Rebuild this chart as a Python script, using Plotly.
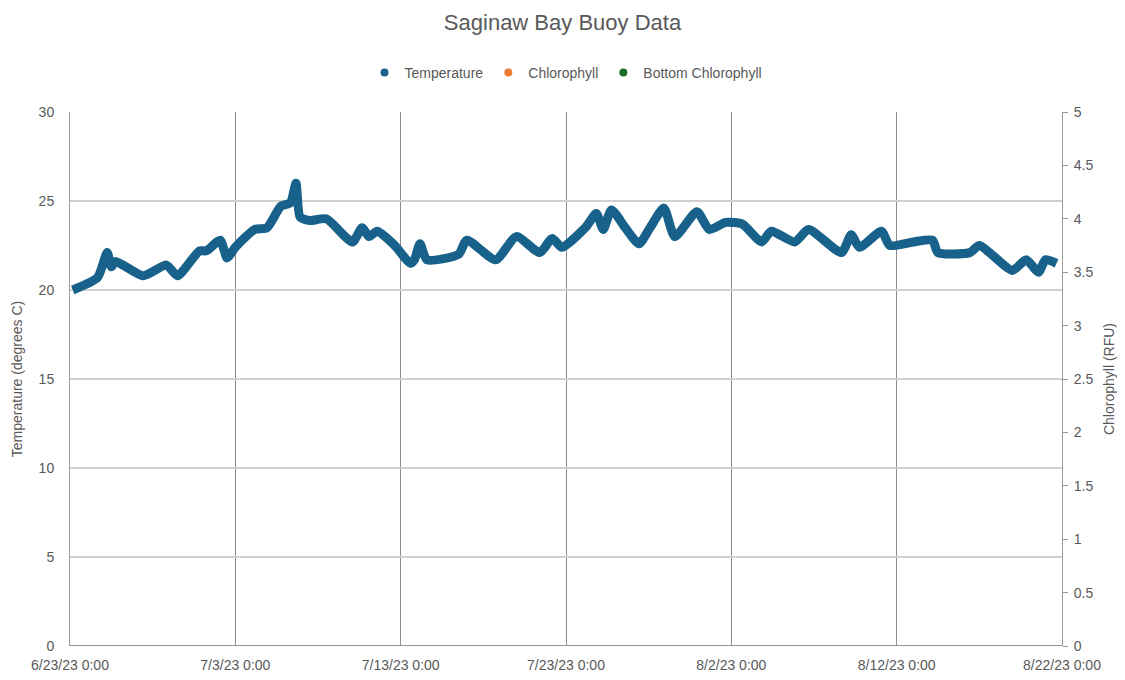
"""Saginaw Bay buoy temperature chart (Excel-style scatter look)."""

import plotly.graph_objects as go

# Temperature readings (deg C), by timestamp.
temp_time = [
    "2023-06-23 04:00", "2023-06-24 16:00", "2023-06-25 06:00", "2023-06-25 12:00",
    "2023-06-25 18:00", "2023-06-27 10:00", "2023-06-28 20:00", "2023-06-29 12:00",
    "2023-06-30 20:00", "2023-07-01 06:00", "2023-07-02 02:00", "2023-07-02 12:00",
    "2023-07-03 00:00", "2023-07-04 04:00", "2023-07-04 22:00", "2023-07-05 18:00",
    "2023-07-06 08:00", "2023-07-06 16:00", "2023-07-06 22:00", "2023-07-07 12:00",
    "2023-07-08 12:00", "2023-07-10 02:00", "2023-07-10 16:00", "2023-07-11 02:00",
    "2023-07-11 14:00", "2023-07-13 00:00", "2023-07-13 20:00", "2023-07-12 18:00",
    "2023-07-13 14:00", "2023-07-14 04:00", "2023-07-14 14:00", "2023-07-16 12:00",
    "2023-07-17 00:00", "2023-07-18 18:00", "2023-07-20 00:00", "2023-07-21 10:00",
    "2023-07-22 04:00", "2023-07-22 18:00", "2023-07-24 04:00", "2023-07-24 20:00",
    "2023-07-25 06:00", "2023-07-25 18:00", "2023-07-26 14:00", "2023-07-27 10:00",
    "2023-07-28 02:00", "2023-07-28 22:00", "2023-07-29 14:00", "2023-07-30 22:00",
    "2023-07-31 16:00", "2023-08-01 16:00", "2023-08-02 16:00", "2023-08-03 20:00",
    "2023-08-04 10:00", "2023-08-05 20:00", "2023-08-06 16:00", "2023-08-08 16:00",
    "2023-08-09 06:00", "2023-08-09 18:00", "2023-08-11 02:00", "2023-08-11 14:00",
    "2023-08-13 00:00", "2023-08-14 04:00", "2023-08-14 12:00", "2023-08-16 10:00",
    "2023-08-17 00:00", "2023-08-19 00:00", "2023-08-19 20:00", "2023-08-20 14:00",
    "2023-08-21 00:00", "2023-08-21 16:00",
]
temp_value = [
    20.0, 20.7, 22.1, 21.3, 21.6, 20.8, 21.4, 20.8,
    22.2, 22.2, 22.8, 21.8, 22.4, 23.4, 23.5, 24.7,
    24.9, 26.0, 24.1, 23.9, 24.0, 22.7, 23.5, 23.0,
    23.3, 22.1, 21.7, 22.4, 21.5, 22.6, 21.7, 22.0,
    22.8, 21.7, 23.0, 22.1, 22.9, 22.4, 23.5, 24.3,
    23.4, 24.5, 23.5, 22.6, 23.5, 24.6, 23.0, 24.4,
    23.4, 23.8, 23.7, 22.7, 23.3, 22.7, 23.4, 22.1,
    23.1, 22.4, 23.3, 22.5, 22.7, 22.8, 22.1, 22.1,
    22.5, 21.1, 21.7, 21.0, 21.7, 21.5,
]
# The two chlorophyll series carry no visible points in the reference.
chl_time = []
chl_value = []
bottom_chl_time = []
bottom_chl_value = []

temp_ticks = [0, 5, 10, 15, 20, 25, 30]
chl_ticks = [0, 0.5, 1, 1.5, 2, 2.5, 3, 3.5, 4, 4.5, 5]
date_ticks = ["2023-06-23", "2023-07-03", "2023-07-13", "2023-07-23",
              "2023-08-02", "2023-08-12", "2023-08-22"]
date_labels = ["6/23/23 0:00", "7/3/23 0:00", "7/13/23 0:00", "7/23/23 0:00",
               "8/2/23 0:00", "8/12/23 0:00", "8/22/23 0:00"]

_BLUE = "#17618a"
_ORANGE = "#ed7d31"
_GREEN = "#1e6b23"
_TEXT = "#595959"
_FONT = "Liberation Sans, Arial, sans-serif"

# sort by time so the line does not double back
pairs = sorted(zip(temp_time, temp_value))
xs = [p[0] for p in pairs]
ys = [p[1] for p in pairs]

fig = go.Figure()
fig.add_trace(go.Scatter(
    x=xs, y=ys, mode="lines", name="Temperature", showlegend=False,
    legendgroup="t", line={"color": _BLUE, "width": 9, "shape": "spline", "smoothing": 0.6},
))
fig.add_trace(go.Scatter(
    x=[None], y=[None], mode="markers", name="Temperature", legendgroup="t",
    marker={"color": _BLUE, "size": 8},
))
fig.add_trace(go.Scatter(
    x=chl_time or [None], y=chl_value or [None], mode="markers", name="Chlorophyll",
    marker={"color": _ORANGE, "size": 8}, yaxis="y2",
))
fig.add_trace(go.Scatter(
    x=bottom_chl_time or [None], y=bottom_chl_value or [None], mode="markers",
    name="Bottom Chlorophyll", marker={"color": _GREEN, "size": 8}, yaxis="y2",
))

# the page body has an 8px margin, so the figure is sized to fit inside it
fig.update_layout(
    width=1109, height=664,
    paper_bgcolor="white", plot_bgcolor="white",
    font={"family": _FONT, "color": _TEXT, "size": 14},
    title={"text": "Saginaw Bay Buoy Data", "x": 0.5, "xanchor": "center",
           "y": 0.978, "yanchor": "middle", "font": {"size": 22, "color": _TEXT}},
    legend={"orientation": "h", "x": 0.5, "xanchor": "center", "y": 1.073,
            "yanchor": "middle", "font": {"size": 14, "color": _TEXT},
            "itemwidth": 30, "tracegroupgap": 0},
    margin={"l": 62, "r": 55, "t": 104, "b": 26},
    xaxis={
        "type": "date", "range": ["2023-06-23", "2023-08-22"],
        "tickvals": date_ticks, "ticktext": date_labels,
        "showgrid": True, "gridcolor": "#8c8c8c", "gridwidth": 1,
        "showline": False, "zeroline": False, "ticks": "",
        "ticklabelstandoff": 9,
        "tickfont": {"size": 14, "color": _TEXT},
    },
    yaxis={
        "range": [0, 30], "tickvals": temp_ticks,
        "showgrid": True, "gridcolor": "#d0d0d0", "gridwidth": 2,
        "showline": True, "linecolor": "#9a9a9a", "zeroline": False,
        "ticks": "", "ticklabelstandoff": 12,
        "title": {"text": "Temperature (degrees C)", "standoff": 12,
                  "font": {"size": 14, "color": _TEXT}},
        "tickfont": {"size": 14, "color": _TEXT},
    },
    yaxis2={
        "range": [0, 5], "tickvals": chl_ticks, "overlaying": "y", "side": "right",
        "showgrid": False, "showline": True, "linecolor": "#9a9a9a", "zeroline": False,
        "ticks": "outside", "ticklen": 5, "tickcolor": "#9a9a9a",
        "ticklabelstandoff": 3,
        "title": {"text": "Chlorophyll (RFU)", "standoff": 12,
                  "font": {"size": 14, "color": _TEXT}},
        "tickfont": {"size": 14, "color": _TEXT},
    },
)
fig.update_yaxes(automargin=False)
fig.update_xaxes(automargin=False)

# darker reference lines as they appear in the source image
for level in (0, 15, 20):
    fig.add_hline(y=level, line={"color": "#6f6f6f", "width": 1.5}, layer="below")

fig.write_html("out.html")
